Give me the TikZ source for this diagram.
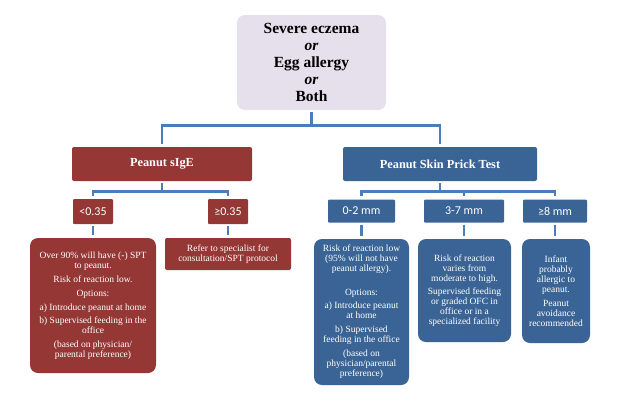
\documentclass[tikz,border=0pt]{standalone}
\usepackage{fontspec}
\setmainfont{Liberation Serif}
\newfontfamily\lblfont{Carlito}
\definecolor{sred}{HTML}{953735}
\definecolor{sblue}{HTML}{3A6495}
\definecolor{lblue}{HTML}{4A7EBB}
\definecolor{lav}{HTML}{E5E0EC}
\begin{document}
\begin{tikzpicture}[x=1pt,y=-1pt,
  box/.style={align=center,inner sep=0pt,text=white},
  redbox/.style={box,fill=sred},
  bluebox/.style={box,fill=sblue},
  headfont/.style={font=\fontsize{12.3}{14}\selectfont\bfseries},
  lblfnt/.style={font=\lblfont\fontsize{12}{14}\selectfont},
  bodyfont/.style={font=\fontsize{9.5}{10}\selectfont},
  conn/.style={draw=lblue,line width=2.6pt,shorten <=2pt,shorten >=3pt}]
\useasboundingbox (0,0) rectangle (641,400);

\node[box,text=black,fill=lav,rounded corners=8pt,minimum width=149pt,minimum height=95pt,
  font=\fontsize{15.5}{17}\selectfont\bfseries] (top) at (311.5,62.5)
  {Severe eczema\\\textit{or}\\Egg allergy\\\textit{or}\\Both};

\node[redbox,headfont,rounded corners=2pt,minimum width=180pt,minimum height=34pt] (sige) at (162,164) {Peanut sIgE};
\node[bluebox,headfont,rounded corners=2pt,minimum width=194pt,minimum height=34pt] (spt) at (440,164) {Peanut Skin Prick Test};

\node[redbox,lblfnt,rounded corners=1pt,minimum width=40pt,minimum height=25pt] (lt) at (93,211.5) {<0.35};
\node[redbox,lblfnt,rounded corners=1pt,minimum width=40pt,minimum height=25pt] (ge) at (228,211.5) {≥0.35};

\node[bluebox,lblfnt,rounded corners=1pt,minimum width=67pt,minimum height=23pt] (mm02) at (361.5,211) {0-2 mm};
\node[bluebox,lblfnt,rounded corners=1pt,minimum width=80pt,minimum height=23pt] (mm37) at (464,211) {3-7 mm};
\node[bluebox,lblfnt,rounded corners=1pt,minimum width=64pt,minimum height=23pt] (mm8) at (555,211) {≥8 mm};

\node[redbox,bodyfont,rounded corners=8pt,minimum width=126pt,minimum height=135pt] (red1) at (93,305.5)
  {Over 90\% will have (-) SPT\\to peanut.\\[4pt]
   Risk of reaction low.\\[4pt]
   Options:\\[4pt]
   a) Introduce peanut at home\\[3pt]
   b) Supervised feeding in the\\office\\[4pt]
   (based on physician/\\parental preference)};

\node[redbox,bodyfont,rounded corners=2pt,minimum width=126pt,minimum height=32pt] (red2) at (228,254)
  {Refer to specialist for\\consultation/SPT protocol};

\node[bluebox,bodyfont,rounded corners=8pt,minimum width=95pt,minimum height=146pt] (b1) at (361.5,312)
  {Risk of reaction low\\(95\% will not have\\peanut allergy).\\[14pt]
   Options:\\[3pt]
   a) Introduce peanut\\at home\\[4pt]
   b) Supervised\\feeding in the office\\[4pt]
   (based on\\physician/parental\\preference)};

\node[bluebox,bodyfont,rounded corners=8pt,minimum width=93pt,minimum height=103pt] (b2) at (464.5,290.5)
  {Risk of reaction\\varies from\\moderate to high.\\[3pt]
   Supervised feeding\\or graded OFC in\\office or in a\\specialized facility};

\node[bluebox,bodyfont,rounded corners=8pt,minimum width=68pt,minimum height=104pt] (b3) at (556,291)
  {Infant\\probably\\allergic to\\peanut.\\[4pt]
   Peanut\\avoidance\\recommended};

% connectors
\draw[conn] (top.south) -- ++(0,15) -| (sige.north);
\draw[conn] (top.south) -- ++(0,15) -| (spt.north);
\draw[conn] (sige.south) -- ++(0,10.5) -| (lt.north);
\draw[conn] (sige.south) -- ++(0,10.5) -| (ge.north);
\draw[conn] (spt.south) -- ++(0,10.5) -| (mm02.north);
\draw[conn] (spt.south) -- ++(0,10.5) -| (mm37.north);
\draw[conn] (spt.south) -- ++(0,10.5) -| (mm8.north);
\draw[conn] (lt.south) -- (lt.south |- red1.north);
\draw[conn] (ge.south) -- (ge.south |- red2.north);
\draw[conn] (mm02.south) -- (mm02.south |- b1.north);
\draw[conn] (mm37.south) -- (mm37.south |- b2.north);
\draw[conn] (mm8.south) -- (mm8.south |- b3.north);
\end{tikzpicture}
\end{document}
